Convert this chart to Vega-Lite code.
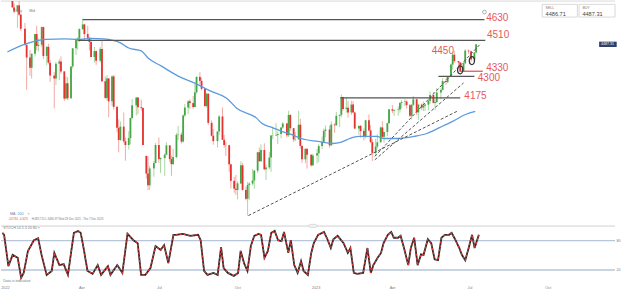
{
"$schema":"https://vega.github.io/schema/vega-lite/v6.json",
"background":"white",
"padding":0,
"spacing":2,
"config":{"view":{"stroke":null},"font":"Liberation Sans","axis":{"grid":false}},
"datasets":{
"px":[
{"d":"2021-12-29","o":4786,"h":4808,"l":4766,"c":4778},
{"d":"2021-12-31","o":4778,"h":4800,"l":4758,"c":4796},
{"d":"2022-01-04","o":4796,"h":4818,"l":4700,"c":4701},
{"d":"2022-01-06","o":4701,"h":4725,"l":4666,"c":4677},
{"d":"2022-01-10","o":4677,"h":4715,"l":4582,"c":4713},
{"d":"2022-01-12","o":4713,"h":4749,"l":4652,"c":4659},
{"d":"2022-01-14","o":4659,"h":4666,"l":4564,"c":4577},
{"d":"2022-01-19","o":4577,"h":4611,"l":4480,"c":4483},
{"d":"2022-01-21","o":4483,"h":4495,"l":4222,"c":4410},
{"d":"2022-01-25","o":4410,"h":4454,"l":4304,"c":4350},
{"d":"2022-01-27","o":4350,"h":4432,"l":4287,"c":4432},
{"d":"2022-01-31","o":4432,"h":4546,"l":4415,"c":4546},
{"d":"2022-02-02","o":4546,"h":4595,"l":4451,"c":4477},
{"d":"2022-02-04","o":4477,"h":4521,"l":4444,"c":4484},
{"d":"2022-02-08","o":4484,"h":4590,"l":4470,"c":4587},
{"d":"2022-02-10","o":4587,"h":4589,"l":4401,"c":4419},
{"d":"2022-02-14","o":4419,"h":4475,"l":4365,"c":4472},
{"d":"2022-02-16","o":4472,"h":4490,"l":4370,"c":4380},
{"d":"2022-02-18","o":4380,"h":4395,"l":4268,"c":4305},
{"d":"2022-02-23","o":4305,"h":4325,"l":4114,"c":4288},
{"d":"2022-02-25","o":4288,"h":4385,"l":4250,"c":4374},
{"d":"2022-03-01","o":4374,"h":4401,"l":4279,"c":4387},
{"d":"2022-03-03","o":4387,"h":4416,"l":4314,"c":4329},
{"d":"2022-03-07","o":4329,"h":4330,"l":4157,"c":4171},
{"d":"2022-03-09","o":4171,"h":4299,"l":4165,"c":4260},
{"d":"2022-03-11","o":4260,"h":4295,"l":4161,"c":4173},
{"d":"2022-03-15","o":4173,"h":4358,"l":4170,"c":4358},
{"d":"2022-03-17","o":4358,"h":4465,"l":4345,"c":4463},
{"d":"2022-03-21","o":4463,"h":4522,"l":4424,"c":4512},
{"d":"2022-03-23","o":4512,"h":4528,"l":4455,"c":4520},
{"d":"2022-03-25","o":4520,"h":4580,"l":4500,"c":4575},
{"d":"2022-03-29","o":4575,"h":4637,"l":4570,"c":4602},
{"d":"2022-03-31","o":4602,"h":4605,"l":4507,"c":4546},
{"d":"2022-04-04","o":4546,"h":4594,"l":4511,"c":4525},
{"d":"2022-04-06","o":4525,"h":4530,"l":4450,"c":4500},
{"d":"2022-04-08","o":4500,"h":4521,"l":4412,"c":4413},
{"d":"2022-04-12","o":4413,"h":4471,"l":4381,"c":4447},
{"d":"2022-04-14","o":4447,"h":4452,"l":4367,"c":4391},
{"d":"2022-04-19","o":4391,"h":4471,"l":4381,"c":4460},
{"d":"2022-04-21","o":4460,"h":4512,"l":4267,"c":4272},
{"d":"2022-04-25","o":4272,"h":4299,"l":4170,"c":4175},
{"d":"2022-04-27","o":4175,"h":4308,"l":4160,"c":4288},
{"d":"2022-04-29","o":4288,"h":4290,"l":4062,"c":4155},
{"d":"2022-05-03","o":4155,"h":4308,"l":4130,"c":4300},
{"d":"2022-05-05","o":4300,"h":4307,"l":4107,"c":4123},
{"d":"2022-05-09","o":4123,"h":4125,"l":3975,"c":4001},
{"d":"2022-05-11","o":4001,"h":4050,"l":3859,"c":3930},
{"d":"2022-05-13","o":3930,"h":4038,"l":3925,"c":4008},
{"d":"2022-05-17","o":4008,"h":4090,"l":3912,"c":3923},
{"d":"2022-05-19","o":3923,"h":3945,"l":3810,"c":3901},
{"d":"2022-05-23","o":3901,"h":3981,"l":3875,"c":3941},
{"d":"2022-05-25","o":3941,"h":4060,"l":3906,"c":4058},
{"d":"2022-05-27","o":4058,"h":4169,"l":4050,"c":4132},
{"d":"2022-06-01","o":4132,"h":4181,"l":4073,"c":4177},
{"d":"2022-06-03","o":4177,"h":4180,"l":4080,"c":4121},
{"d":"2022-06-07","o":4121,"h":4164,"l":4100,"c":4116},
{"d":"2022-06-09","o":4116,"h":4120,"l":3900,"c":3901},
{"d":"2022-06-13","o":3838,"h":3838,"l":3705,"c":3735},
{"d":"2022-06-15","o":3735,"h":3837,"l":3639,"c":3667},
{"d":"2022-06-17","o":3667,"h":3779,"l":3640,"c":3765},
{"d":"2022-06-22","o":3765,"h":3808,"l":3717,"c":3796},
{"d":"2022-06-24","o":3796,"h":3913,"l":3795,"c":3901},
{"d":"2022-06-28","o":3901,"h":3945,"l":3797,"c":3819},
{"d":"2022-06-30","o":3819,"h":3829,"l":3738,"c":3825},
{"d":"2022-07-05","o":3825,"h":3852,"l":3721,"c":3845},
{"d":"2022-07-07","o":3845,"h":3918,"l":3843,"c":3899},
{"d":"2022-07-11","o":3899,"h":3900,"l":3802,"c":3819},
{"d":"2022-07-13","o":3819,"h":3839,"l":3722,"c":3790},
{"d":"2022-07-15","o":3790,"h":3880,"l":3785,"c":3831},
{"d":"2022-07-19","o":3831,"h":3971,"l":3825,"c":3960},
{"d":"2022-07-21","o":3960,"h":4012,"l":3930,"c":3962},
{"d":"2022-07-25","o":3962,"h":3975,"l":3910,"c":3921},
{"d":"2022-07-27","o":3921,"h":4079,"l":3915,"c":4073},
{"d":"2022-07-29","o":4073,"h":4140,"l":4065,"c":4119},
{"d":"2022-08-02","o":4119,"h":4162,"l":4080,"c":4155},
{"d":"2022-08-04","o":4155,"h":4167,"l":4110,"c":4145},
{"d":"2022-08-08","o":4145,"h":4186,"l":4112,"c":4122},
{"d":"2022-08-10","o":4122,"h":4257,"l":4120,"c":4207},
{"d":"2022-08-12","o":4207,"h":4301,"l":4200,"c":4297},
{"d":"2022-08-16","o":4297,"h":4325,"l":4253,"c":4274},
{"d":"2022-08-18","o":4274,"h":4292,"l":4218,"c":4228},
{"d":"2022-08-22","o":4228,"h":4230,"l":4123,"c":4128},
{"d":"2022-08-24","o":4128,"h":4204,"l":4119,"c":4199},
{"d":"2022-08-26","o":4199,"h":4203,"l":4017,"c":4030},
{"d":"2022-08-30","o":4030,"h":4044,"l":3950,"c":3955},
{"d":"2022-09-01","o":3955,"h":3994,"l":3903,"c":3924},
{"d":"2022-09-06","o":3924,"h":3980,"l":3886,"c":3980},
{"d":"2022-09-08","o":3980,"h":4076,"l":3960,"c":4067},
{"d":"2022-09-12","o":4067,"h":4119,"l":3930,"c":3932},
{"d":"2022-09-14","o":3932,"h":3960,"l":3885,"c":3901},
{"d":"2022-09-16","o":3901,"h":3920,"l":3838,"c":3900},
{"d":"2022-09-20","o":3900,"h":3903,"l":3744,"c":3789},
{"d":"2022-09-22","o":3789,"h":3790,"l":3648,"c":3693},
{"d":"2022-09-26","o":3693,"h":3716,"l":3623,"c":3647},
{"d":"2022-09-28","o":3647,"h":3727,"l":3611,"c":3640},
{"d":"2022-09-30","o":3640,"h":3690,"l":3585,"c":3678},
{"d":"2022-10-04","o":3678,"h":3807,"l":3675,"c":3783},
{"d":"2022-10-06","o":3783,"h":3797,"l":3636,"c":3640},
{"d":"2022-10-10","o":3640,"h":3658,"l":3580,"c":3589},
{"d":"2022-10-12","o":3589,"h":3685,"l":3491,"c":3669},
{"d":"2022-10-14","o":3669,"h":3685,"l":3582,"c":3677},
{"d":"2022-10-18","o":3677,"h":3762,"l":3665,"c":3695},
{"d":"2022-10-20","o":3695,"h":3757,"l":3647,"c":3752},
{"d":"2022-10-24","o":3752,"h":3862,"l":3738,"c":3859},
{"d":"2022-10-26","o":3859,"h":3886,"l":3803,"c":3807},
{"d":"2022-10-28","o":3807,"h":3905,"l":3805,"c":3872},
{"d":"2022-11-01","o":3872,"h":3911,"l":3755,"c":3760},
{"d":"2022-11-03","o":3760,"h":3786,"l":3698,"c":3771},
{"d":"2022-11-07","o":3771,"h":3859,"l":3760,"c":3828},
{"d":"2022-11-09","o":3828,"h":3960,"l":3745,"c":3956},
{"d":"2022-11-11","o":3956,"h":4008,"l":3935,"c":3957},
{"d":"2022-11-15","o":3957,"h":4028,"l":3953,"c":3959},
{"d":"2022-11-17","o":3959,"h":3979,"l":3906,"c":3965},
{"d":"2022-11-21","o":3965,"h":4005,"l":3940,"c":4003},
{"d":"2022-11-23","o":4003,"h":4034,"l":3995,"c":4026},
{"d":"2022-11-28","o":4026,"h":4030,"l":3945,"c":3958},
{"d":"2022-11-30","o":3958,"h":4100,"l":3948,"c":4076},
{"d":"2022-12-02","o":4076,"h":4080,"l":3983,"c":3999},
{"d":"2022-12-06","o":3999,"h":4001,"l":3919,"c":3933},
{"d":"2022-12-08","o":3933,"h":3977,"l":3923,"c":3934},
{"d":"2022-12-12","o":3934,"h":4100,"l":3932,"c":4019},
{"d":"2022-12-14","o":4019,"h":4053,"l":3880,"c":3896},
{"d":"2022-12-16","o":3896,"h":3900,"l":3797,"c":3818},
{"d":"2022-12-20","o":3818,"h":3881,"l":3795,"c":3879},
{"d":"2022-12-22","o":3879,"h":3880,"l":3764,"c":3845},
{"d":"2022-12-27","o":3845,"h":3846,"l":3775,"c":3783},
{"d":"2022-12-29","o":3783,"h":3850,"l":3780,"c":3840},
{"d":"2023-01-03","o":3840,"h":3878,"l":3794,"c":3853},
{"d":"2023-01-05","o":3853,"h":3906,"l":3802,"c":3895},
{"d":"2023-01-09","o":3895,"h":3951,"l":3877,"c":3919},
{"d":"2023-01-11","o":3919,"h":3997,"l":3918,"c":3983},
{"d":"2023-01-13","o":3983,"h":4015,"l":3946,"c":3991},
{"d":"2023-01-18","o":3991,"h":4015,"l":3885,"c":3899},
{"d":"2023-01-20","o":3899,"h":4039,"l":3898,"c":4020},
{"d":"2023-01-24","o":4020,"h":4028,"l":3972,"c":4016},
{"d":"2023-01-26","o":4016,"h":4094,"l":4013,"c":4071},
{"d":"2023-01-30","o":4071,"h":4078,"l":4005,"c":4077},
{"d":"2023-02-01","o":4077,"h":4195,"l":4062,"c":4180},
{"d":"2023-02-03","o":4180,"h":4182,"l":4101,"c":4111},
{"d":"2023-02-07","o":4111,"h":4176,"l":4089,"c":4118},
{"d":"2023-02-09","o":4118,"h":4157,"l":4060,"c":4090},
{"d":"2023-02-13","o":4090,"h":4159,"l":4076,"c":4136},
{"d":"2023-02-15","o":4136,"h":4156,"l":4089,"c":4090},
{"d":"2023-02-17","o":4090,"h":4095,"l":3994,"c":3997},
{"d":"2023-02-22","o":3997,"h":4018,"l":3960,"c":4012},
{"d":"2023-02-24","o":4012,"h":4018,"l":3943,"c":3982},
{"d":"2023-02-28","o":3982,"h":3997,"l":3928,"c":3951},
{"d":"2023-03-02","o":3951,"h":4048,"l":3939,"c":4045},
{"d":"2023-03-06","o":4045,"h":4079,"l":3980,"c":3986},
{"d":"2023-03-08","o":3986,"h":4017,"l":3912,"c":3918},
{"d":"2023-03-10","o":3918,"h":3934,"l":3808,"c":3855},
{"d":"2023-03-14","o":3855,"h":3937,"l":3838,"c":3892},
{"d":"2023-03-16","o":3892,"h":3965,"l":3880,"c":3917},
{"d":"2023-03-20","o":3917,"h":4009,"l":3916,"c":4003},
{"d":"2023-03-22","o":4003,"h":4039,"l":3936,"c":3949},
{"d":"2023-03-24","o":3949,"h":3980,"l":3914,"c":3977},
{"d":"2023-03-28","o":3977,"h":4031,"l":3952,"c":4028},
{"d":"2023-03-30","o":4028,"h":4110,"l":4027,"c":4109},
{"d":"2023-04-03","o":4109,"h":4133,"l":4086,"c":4101},
{"d":"2023-04-05","o":4101,"h":4108,"l":4070,"c":4105},
{"d":"2023-04-10","o":4105,"h":4125,"l":4072,"c":4108},
{"d":"2023-04-12","o":4108,"h":4151,"l":4089,"c":4146},
{"d":"2023-04-14","o":4146,"h":4163,"l":4114,"c":4151},
{"d":"2023-04-18","o":4151,"h":4169,"l":4127,"c":4154},
{"d":"2023-04-20","o":4154,"h":4160,"l":4113,"c":4133},
{"d":"2023-04-24","o":4133,"h":4140,"l":4062,"c":4071},
{"d":"2023-04-26","o":4071,"h":4139,"l":4049,"c":4135},
{"d":"2023-04-28","o":4135,"h":4186,"l":4128,"c":4167},
{"d":"2023-05-02","o":4167,"h":4170,"l":4076,"c":4091},
{"d":"2023-05-04","o":4091,"h":4142,"l":4048,"c":4136},
{"d":"2023-05-08","o":4136,"h":4142,"l":4103,"c":4119},
{"d":"2023-05-10","o":4119,"h":4154,"l":4098,"c":4130},
{"d":"2023-05-12","o":4130,"h":4143,"l":4099,"c":4136},
{"d":"2023-05-16","o":4136,"h":4165,"l":4102,"c":4158},
{"d":"2023-05-18","o":4158,"h":4213,"l":4140,"c":4192},
{"d":"2023-05-22","o":4192,"h":4209,"l":4143,"c":4146},
{"d":"2023-05-24","o":4146,"h":4166,"l":4104,"c":4151},
{"d":"2023-05-26","o":4151,"h":4232,"l":4144,"c":4206},
{"d":"2023-05-31","o":4206,"h":4231,"l":4166,"c":4221},
{"d":"2023-06-02","o":4221,"h":4290,"l":4218,"c":4273},
{"d":"2023-06-06","o":4273,"h":4289,"l":4250,"c":4267},
{"d":"2023-06-08","o":4267,"h":4300,"l":4260,"c":4299},
{"d":"2023-06-12","o":4299,"h":4375,"l":4298,"c":4369},
{"d":"2023-06-14","o":4369,"h":4439,"l":4340,"c":4426},
{"d":"2023-06-16","o":4426,"h":4449,"l":4380,"c":4389},
{"d":"2023-06-21","o":4389,"h":4390,"l":4345,"c":4381},
{"d":"2023-06-23","o":4381,"h":4383,"l":4328,"c":4328},
{"d":"2023-06-27","o":4328,"h":4385,"l":4325,"c":4376},
{"d":"2023-06-29","o":4376,"h":4458,"l":4370,"c":4450},
{"d":"2023-07-03","o":4450,"h":4456,"l":4430,"c":4446},
{"d":"2023-07-06","o":4446,"h":4450,"l":4385,"c":4399},
{"d":"2023-07-10","o":4399,"h":4443,"l":4383,"c":4439},
{"d":"2023-07-12","o":4439,"h":4488,"l":4435,"c":4487}
],
"ma":[
{"d":"2021-12-29","m":4442},{"d":"2022-01-20","m":4489},{"d":"2022-02-13","m":4515},{"d":"2022-03-08","m":4518},
{"d":"2022-03-23","m":4515},{"d":"2022-04-08","m":4521},{"d":"2022-04-23","m":4518},{"d":"2022-05-13","m":4495},
{"d":"2022-05-23","m":4465},{"d":"2022-06-07","m":4448},{"d":"2022-06-15","m":4407},{"d":"2022-07-01","m":4360},
{"d":"2022-07-21","m":4302},{"d":"2022-08-10","m":4261},{"d":"2022-08-29","m":4214},{"d":"2022-09-17","m":4173},
{"d":"2022-09-29","m":4115},{"d":"2022-10-23","m":4056},{"d":"2022-10-29","m":4027},{"d":"2022-11-10","m":4004},
{"d":"2022-11-22","m":3980},{"d":"2022-12-03","m":3963},{"d":"2022-12-15","m":3939},{"d":"2023-01-04","m":3922},
{"d":"2023-01-22","m":3910},{"d":"2023-01-31","m":3916},{"d":"2023-02-11","m":3939},{"d":"2023-02-22","m":3951},
{"d":"2023-03-15","m":3951},{"d":"2023-03-24","m":3939},{"d":"2023-04-08","m":3939},{"d":"2023-04-29","m":3951},
{"d":"2023-05-14","m":3968},{"d":"2023-05-30","m":4004},{"d":"2023-06-14","m":4039},{"d":"2023-06-30","m":4080},
{"d":"2023-07-11","m":4097}
],
"st":[
{"d":"2021-12-29","k":96},{"d":"2021-12-31","k":92},{"d":"2022-01-05","k":28},{"d":"2022-01-10","k":51},
{"d":"2022-01-16","k":45},{"d":"2022-01-20","k":4},{"d":"2022-01-23","k":14},{"d":"2022-01-28","k":59},
{"d":"2022-02-04","k":81},{"d":"2022-02-09","k":85},{"d":"2022-02-13","k":51},{"d":"2022-02-19","k":10},
{"d":"2022-02-25","k":18},{"d":"2022-02-28","k":55},{"d":"2022-03-06","k":30},{"d":"2022-03-11","k":32},
{"d":"2022-03-16","k":10},{"d":"2022-03-23","k":96},{"d":"2022-03-28","k":100},{"d":"2022-03-31","k":96},
{"d":"2022-04-03","k":69},{"d":"2022-04-08","k":18},{"d":"2022-04-14","k":12},{"d":"2022-04-20","k":30},
{"d":"2022-04-24","k":10},{"d":"2022-05-02","k":28},{"d":"2022-05-05","k":10},{"d":"2022-05-13","k":30},
{"d":"2022-05-19","k":14},{"d":"2022-05-25","k":94},{"d":"2022-06-01","k":81},{"d":"2022-06-06","k":75},
{"d":"2022-06-10","k":10},{"d":"2022-06-15","k":10},{"d":"2022-06-21","k":24},{"d":"2022-06-27","k":69},
{"d":"2022-07-03","k":61},{"d":"2022-07-07","k":71},{"d":"2022-07-12","k":34},{"d":"2022-07-18","k":92},
{"d":"2022-07-21","k":92},{"d":"2022-07-29","k":94},{"d":"2022-08-07","k":90},{"d":"2022-08-16","k":92},
{"d":"2022-08-19","k":81},{"d":"2022-08-23","k":18},{"d":"2022-08-27","k":10},{"d":"2022-09-03","k":14},
{"d":"2022-09-08","k":10},{"d":"2022-09-12","k":67},{"d":"2022-09-15","k":24},{"d":"2022-09-20","k":14},
{"d":"2022-09-27","k":8},{"d":"2022-10-02","k":14},{"d":"2022-10-05","k":59},{"d":"2022-10-09","k":34},
{"d":"2022-10-13","k":18},{"d":"2022-10-17","k":69},{"d":"2022-10-21","k":90},{"d":"2022-10-26","k":94},
{"d":"2022-10-29","k":92},{"d":"2022-11-02","k":45},{"d":"2022-11-06","k":59},{"d":"2022-11-10","k":96},
{"d":"2022-11-14","k":100},{"d":"2022-11-18","k":81},{"d":"2022-11-22","k":79},{"d":"2022-11-25","k":98},
{"d":"2022-11-30","k":55},{"d":"2022-12-03","k":81},{"d":"2022-12-07","k":30},{"d":"2022-12-11","k":14},
{"d":"2022-12-15","k":38},{"d":"2022-12-18","k":18},{"d":"2022-12-23","k":10},{"d":"2022-12-27","k":55},
{"d":"2022-12-30","k":75},{"d":"2023-01-04","k":92},{"d":"2023-01-11","k":98},{"d":"2023-01-15","k":83},
{"d":"2023-01-19","k":65},{"d":"2023-01-22","k":83},{"d":"2023-01-27","k":90},{"d":"2023-02-03","k":75},
{"d":"2023-02-08","k":55},{"d":"2023-02-11","k":65},{"d":"2023-02-15","k":14},{"d":"2023-02-19","k":12},
{"d":"2023-02-26","k":14},{"d":"2023-03-03","k":65},{"d":"2023-03-07","k":14},{"d":"2023-03-10","k":30},
{"d":"2023-03-15","k":45},{"d":"2023-03-19","k":55},{"d":"2023-03-22","k":75},{"d":"2023-03-27","k":92},
{"d":"2023-03-31","k":98},{"d":"2023-04-03","k":86},{"d":"2023-04-08","k":86},{"d":"2023-04-11","k":90},
{"d":"2023-04-15","k":65},{"d":"2023-04-20","k":30},{"d":"2023-04-23","k":65},{"d":"2023-04-27","k":86},
{"d":"2023-05-01","k":30},{"d":"2023-05-05","k":52},{"d":"2023-05-08","k":51},{"d":"2023-05-13","k":83},
{"d":"2023-05-17","k":75},{"d":"2023-05-21","k":42},{"d":"2023-05-25","k":40},{"d":"2023-05-29","k":86},
{"d":"2023-06-02","k":92},{"d":"2023-06-07","k":92},{"d":"2023-06-10","k":96},{"d":"2023-06-14","k":83},
{"d":"2023-06-19","k":65},{"d":"2023-06-22","k":51},{"d":"2023-06-26","k":40},{"d":"2023-06-30","k":65},
{"d":"2023-07-04","k":92},{"d":"2023-07-07","k":65},{"d":"2023-07-12","k":92}
],
"lv":[
{"a":"2022-03-29","b":"2023-07-22","p":4630},
{"a":"2022-03-23","b":"2023-07-23","p":4510},
{"a":"2023-01-31","b":"2023-06-23","p":4175},
{"a":"2023-05-28","b":"2023-07-10","p":4300},
{"a":"2023-06-23","b":"2023-07-20","p":4330}
],
"lb":[
{"d":"2023-07-24","p":4637,"t":"4630"},
{"d":"2023-07-25","p":4541,"t":"4510"},
{"d":"2023-05-20","p":4448,"t":"4450"},
{"d":"2023-07-24","p":4349,"t":"4330"},
{"d":"2023-07-14","p":4290,"t":"4300"},
{"d":"2023-06-28","p":4186,"t":"4175"}
],
"tl":[
{"a":"2022-10-13","pa":3491,"b":"2023-06-20","pb":4099},
{"a":"2023-03-13","pa":3815,"b":"2023-06-27","pb":4262},
{"a":"2023-03-13","pa":3835,"b":"2023-07-17","pb":4488}
],
"el":[{"d":"2023-06-23","p":4338},{"d":"2023-07-07","p":4392}],
"rg":[{"d":"2023-07-22","p":4674}],
"tx":[
{"d":"2022-01-06","p":4680,"t":"Daily","k":"info"},
{"d":"2022-01-24","p":4680,"t":"Mid","k":"info"},
{"d":"2022-01-01","p":3500,"t":"MA","k":"info"},
{"d":"2022-01-10","p":3500,"t":"200","k":"ma"},
{"d":"2022-01-22","p":3500,"t":"×","k":"info"},
{"d":"2023-10-03","p":4699,"t":"SELL","k":"info"},
{"d":"2023-11-16","p":4699,"t":"BUY","k":"info"}
],
"tx2":[
{"d":"2021-12-30","p":3471,"t":"-107.84","k":"chg"},
{"d":"2022-01-12","p":3471,"t":"-0.62%","k":"chg"},
{"d":"2022-01-27","p":3471,"t":"H:4817.55  L:3490.97  Wed 29 Dec 2021 - Thu 7 Dec 2023","k":"info"}
],
"bx":[
{"a":"2023-09-29","b":"2023-11-10","p1":4719,"p2":4645},
{"a":"2023-11-12","b":"2023-12-25","p1":4719,"p2":4645}
],
"bt":[
{"d":"2023-10-03","p":4663,"t":"4486.71"},
{"d":"2023-11-16","p":4663,"t":"4487.31"}
],
"tag":[{"a":"2023-12-06","b":"2023-12-27","p1":4502,"p2":4471,"d":"2023-12-16","p":4487,"t":"4487.31"}],
"stx":[
{"d":"2021-12-30","v":107,"t":"STOCH  14  5  3  20  80  ×"},
{"d":"2021-12-30","v":-2.5,"t":"Data is indicative"}
],
"ui":[
{"a":"2023-10-23","b":"2023-12-09","v1":-21,"v2":-24.5,"kind":"scroll"},
{"a":"2022-12-24","b":"2023-01-03","v1":113.4,"v2":107.4,"kind":"handle"}
]
},
"vconcat":[
{
"width":614,"height":221,
"layer":[
{"data":{"values":[{"v":4738}]},"mark":{"type":"rule","color":"#d9d9d9","strokeWidth":1},
 "encoding":{"y":{"field":"v","type":"quantitative","scale":{"domain":[3453.5,4738.4],"nice":false,"zero":false},
   "axis":{"orient":"right","values":[3600,3800,4000,4200,4400,4600],"format":".2f","labelFontSize":3.8,"labelColor":"#808080","labelAlign":"left","labelPadding":-8,"ticks":false,"domain":false,"grid":false,"title":null}}}},
{"data":{"name":"px"},"mark":{"type":"rule","strokeWidth":1,"clip":true},
 "encoding":{
  "x":{"field":"d","type":"temporal","scale":{"type":"utc","domain":[{"year":2021,"month":12,"date":27,"hours":8,"utc":true},{"year":2023,"month":12,"date":19,"utc":true}]},"axis":null},
  "y":{"field":"l","type":"quantitative","axis":null},
  "y2":{"field":"h"},
  "color":{"condition":{"test":"datum.c >= datum.o","value":"#a8d8a2"},"value":"#f2a9a6"}}},
{"data":{"name":"px"},"mark":{"type":"bar","size":1.8,"clip":true},
 "encoding":{
  "x":{"field":"d","type":"temporal"},
  "y":{"field":"o","type":"quantitative","axis":null},
  "y2":{"field":"c"},
  "color":{"condition":{"test":"datum.c >= datum.o","value":"#46a546"},"value":"#e5322f"}}},
{"data":{"name":"ma"},"mark":{"type":"line","color":"#5b9bde","strokeWidth":1.3,"interpolate":"monotone","clip":true},
 "encoding":{"x":{"field":"d","type":"temporal"},"y":{"field":"m","type":"quantitative","axis":null}}},
{"data":{"name":"lv"},"mark":{"type":"rule","strokeWidth":1.3},
 "encoding":{"x":{"field":"a","type":"temporal"},"x2":{"field":"b"},"y":{"field":"p","type":"quantitative","axis":null},
  "color":{"condition":{"test":"datum.p == 4330","value":"#e0585a"},"value":"#555555"}}},
{"data":{"name":"tl"},"mark":{"type":"rule","strokeWidth":1,"strokeDash":[3,2],"color":"#555555"},
 "encoding":{"x":{"field":"a","type":"temporal"},"x2":{"field":"b"},"y":{"field":"pa","type":"quantitative","axis":null},"y2":{"field":"pb"}}},
{"data":{"name":"lb"},"mark":{"type":"text","align":"left","baseline":"middle","fontSize":10,"color":"#e35b5b"},
 "encoding":{"x":{"field":"d","type":"temporal"},"y":{"field":"p","type":"quantitative","axis":null},"text":{"field":"t"}}},
{"data":{"name":"el"},"mark":{"type":"point","shape":"M-0.65,0A0.65,1,0,1,1,0.65,0A0.65,1,0,1,1,-0.65,0Z","size":64,"stroke":"#333333","strokeWidth":1.3,"filled":false,"opacity":1},
 "encoding":{"x":{"field":"d","type":"temporal"},"y":{"field":"p","type":"quantitative","axis":null}}},
{"data":{"name":"rg"},"mark":{"type":"point","shape":"circle","size":14,"stroke":"#9a9a9a","strokeWidth":0.8,"filled":false,"opacity":1},
 "encoding":{"x":{"field":"d","type":"temporal"},"y":{"field":"p","type":"quantitative","axis":null}}},
{"data":{"name":"tx"},"transform":[{"filter":"datum.t != 'SELL' && datum.t != 'BUY'"}],"mark":{"type":"text","align":"left","baseline":"middle","fontSize":3.6},
 "encoding":{"x":{"field":"d","type":"temporal"},"y":{"field":"p","type":"quantitative","axis":null},"text":{"field":"t"},
  "color":{"field":"k","type":"nominal","scale":{"domain":["info","chg","ma"],"range":["#7a7a7a","#e05050","#4a90d9"]},"legend":null}}},
{"data":{"name":"tx2"},"mark":{"type":"text","align":"left","baseline":"middle","fontSize":2.8},
 "encoding":{"x":{"field":"d","type":"temporal"},"y":{"field":"p","type":"quantitative","axis":null},"text":{"field":"t"},
  "color":{"field":"k","type":"nominal","legend":null}}},
{"data":{"name":"bx"},"mark":{"type":"rect","fill":"white","stroke":"#cfcfcf","strokeWidth":0.8},
 "encoding":{"x":{"field":"a","type":"temporal"},"x2":{"field":"b"},"y":{"field":"p1","type":"quantitative","axis":null},"y2":{"field":"p2"}}},
{"data":{"name":"bt"},"mark":{"type":"text","align":"left","baseline":"middle","fontSize":5.6,"color":"#444444"},
 "encoding":{"x":{"field":"d","type":"temporal"},"y":{"field":"p","type":"quantitative","axis":null},"text":{"field":"t"}}},
{"data":{"name":"tx"},"transform":[{"filter":"datum.t == 'SELL' || datum.t == 'BUY'"}],"mark":{"type":"text","align":"left","baseline":"middle","fontSize":3.6,"color":"#7a7a7a"},
 "encoding":{"x":{"field":"d","type":"temporal"},"y":{"field":"p","type":"quantitative","axis":null},"text":{"field":"t"}}},
{"data":{"name":"tag"},"mark":{"type":"rect","fill":"#2f4068"},
 "encoding":{"x":{"field":"a","type":"temporal"},"x2":{"field":"b"},"y":{"field":"p1","type":"quantitative","axis":null},"y2":{"field":"p2"}}},
{"data":{"name":"tag"},"mark":{"type":"text","align":"center","baseline":"middle","fontSize":3.6,"color":"white"},
 "encoding":{"x":{"field":"d","type":"temporal"},"y":{"field":"p","type":"quantitative","axis":null},"text":{"field":"t"}}}
]
},
{
"width":614,"height":56,
"layer":[
{"data":{"values":[{"v":80},{"v":20}]},"mark":{"type":"rule","color":"#b7c6da","strokeWidth":1.3},
 "encoding":{"y":{"field":"v","type":"quantitative","scale":{"domain":[-4.6,110.1],"nice":false,"zero":false},
  "axis":{"orient":"right","values":[20,80],"labelFontSize":3.8,"labelColor":"#808080","labelAlign":"left","labelPadding":1,"ticks":false,"domain":false,"grid":false,"title":null}}}},
{"data":{"values":[{"v":110}]},"mark":{"type":"rule","color":"#d0d0d0","strokeWidth":1},
 "encoding":{"y":{"field":"v","type":"quantitative"}}},
{"data":{"name":"st"},"mark":{"type":"line","color":"#2b2b2b","strokeWidth":1.8,"clip":true},
 "encoding":{
  "x":{"field":"d","type":"temporal","scale":{"type":"utc","domain":[{"year":2021,"month":12,"date":27,"hours":8,"utc":true},{"year":2023,"month":12,"date":19,"utc":true}]},
   "axis":{"orient":"bottom","tickCount":{"interval":"month","step":3},"labelExpr":"utcFormat(datum.value, '%m') == '01' ? utcFormat(datum.value, '%Y') : utcFormat(datum.value, '%b')","labelFontSize":3.8,"labelColor":"#808080","ticks":false,"domain":false,"grid":false,"title":null,"labelPadding":3,"labelOverlap":false,"labelFlush":false}},
  "y":{"field":"k","type":"quantitative"}}},
{"data":{"name":"st"},"mark":{"type":"line","color":"#e53935","strokeWidth":1.3,"strokeDash":[2,2],"clip":true},
 "encoding":{"x":{"field":"d","type":"temporal"},"y":{"field":"k","type":"quantitative"}}},
{"data":{"name":"stx"},"mark":{"type":"text","align":"left","baseline":"middle","fontSize":3.6,"color":"#7a7a7a"},
 "encoding":{"x":{"field":"d","type":"temporal"},"y":{"field":"v","type":"quantitative"},"text":{"field":"t"}}},
{"data":{"name":"ui"},"mark":{"type":"rect","cornerRadius":1.5,"strokeWidth":0.6},
 "encoding":{"x":{"field":"a","type":"temporal"},"x2":{"field":"b"},"y":{"field":"v1","type":"quantitative"},"y2":{"field":"v2"},
  "fill":{"field":"kind","type":"nominal","scale":{"domain":["scroll","handle"],"range":["#3c7fd8","#f2f2f2"]},"legend":null},
  "stroke":{"field":"kind","type":"nominal","scale":{"domain":["scroll","handle"],"range":["#3c7fd8","#c8c8c8"]},"legend":null}}}
]
}
]
}
